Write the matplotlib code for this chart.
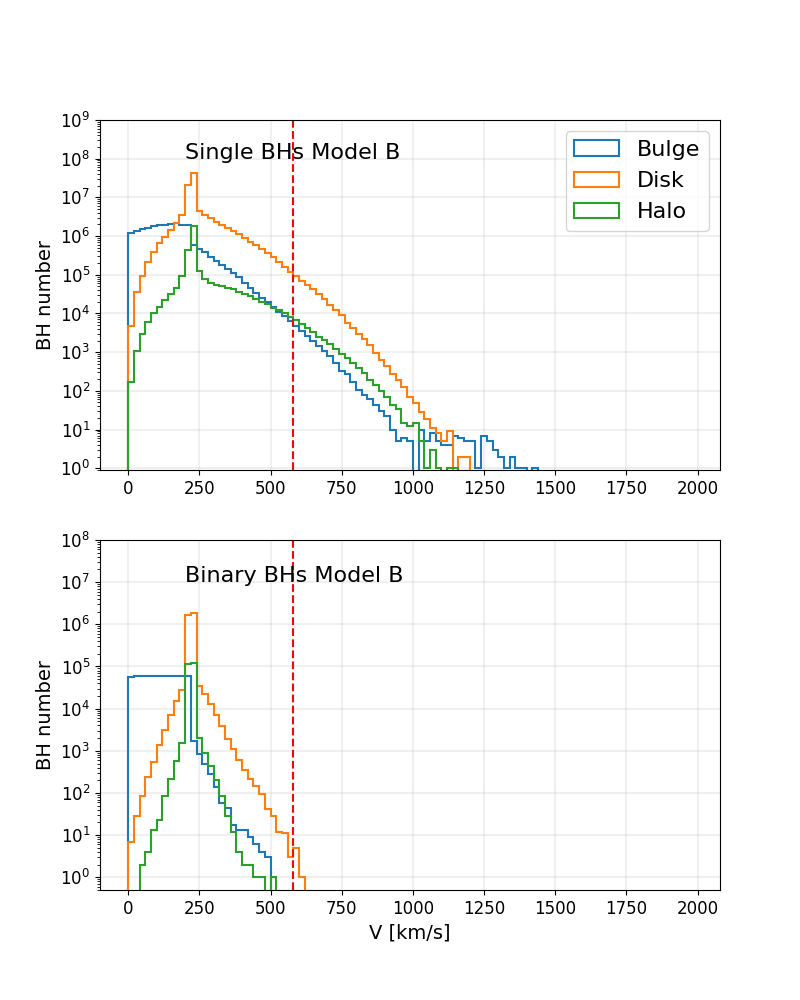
import numpy as np
import matplotlib
matplotlib.use("Agg")
import matplotlib.pyplot as plt
from matplotlib.ticker import LogLocator

# bin edges (km/s)
bin_edges = np.arange(0, 2000, 20)

# ---- Single BHs, Model B (counts per 20 km/s bin, starting at 0) ----
single_bulge = [1175000, 1380000, 1510000, 1660000, 1780000, 1900000, 1950000, 2040000,
                2140000, 1900000, 1900000, 603000, 457000, 380000, 295000, 229000, 182000,
                141000, 112000, 85100, 61700, 46800, 33900, 25100, 20000, 14800, 11000,
                8510, 6460, 4680, 3550, 2570, 1950, 1410, 1070, 794, 513, 331, 269, 170,
                105, 78, 63, 43, 30, 23, 10, 5, 6, 5, 0, 10, 5, 8, 5, 4, 4, 7, 6, 5, 5,
                1, 7, 5, 3, 2, 1, 2, 1, 1, 0, 1]
single_disk = [4800, 35000, 93000, 210000, 380000, 650000, 950000, 1450000, 2240000,
               3470000, 21400000, 41700000, 4570000, 3470000, 2880000, 2340000, 1900000,
               1660000, 1380000, 1120000, 912000, 724000, 575000, 457000, 355000, 288000,
               219000, 162000, 120000, 91200, 70800, 53700, 43700, 32400, 24000, 17000,
               12600, 8900, 5750, 4270, 3020, 2140, 1510, 955, 631, 447, 269, 195, 126,
               71, 49, 29, 19, 11, 8, 5, 9, 0, 2, 2]
single_halo = [166, 1070, 2950, 5890, 10000, 15100, 21900, 31600, 46800, 91200, 437000,
               1780000, 126000, 77600, 63100, 55000, 50100, 45700, 41700, 36300, 31600,
               27500, 23400, 20000, 17400, 14100, 12300, 10000, 7940, 6760, 5250, 4270,
               3310, 2510, 2040, 1580, 1230, 912, 692, 513, 380, 282, 195, 141, 100, 71,
               42, 33, 15, 12, 15, 5, 1, 3, 1, 0, 1, 1]

# ---- Binary BHs, Model B ----
binary_bulge = [56000, 60000, 60000, 60000, 60000, 60000, 60000, 60000, 60000, 60000,
                60000, 1740, 832, 479, 288, 141, 58, 44, 17, 13, 13, 9, 6, 4, 3]
binary_disk = [7, 29, 85, 245, 550, 1350, 3160, 7080, 14800, 27500, 1660000, 1860000,
               34700, 21900, 12600, 7240, 3980, 1950, 1120, 617, 347, 219, 145, 93, 41,
               28, 12, 11, 3, 5, 1]
binary_halo = [0, 0, 2, 4, 13, 23, 85, 219, 575, 1510, 117000, 123000, 2040, 912, 437,
               200, 83, 28, 12, 4, 2, 2, 1, 1, 0, 1]

labels = ["Bulge", "Disk", "Halo"]
v_cut = 578
titles = ["Single BHs Model B", "Binary BHs Model B"]
ylims = [(0.9, 1e9), (0.5, 1e8)]
title_y = [1e8, 1e7]


def padded(vals):
    out = np.zeros(len(bin_edges) - 1)
    out[:len(vals)] = vals
    return out


centers = 0.5 * (bin_edges[:-1] + bin_edges[1:])

fig, axes = plt.subplots(2, 1, figsize=(8, 10), dpi=100)
datasets = [(single_bulge, single_disk, single_halo),
            (binary_bulge, binary_disk, binary_halo)]

for i, ax in enumerate(axes):
    for vals, lab in zip(datasets[i], labels):
        ax.hist(centers, bins=bin_edges, weights=padded(vals), histtype="step",
                log=True, label=lab, linewidth=1.5)
    ax.axvline(v_cut, color="red", linestyle="--", linewidth=1.5)
    ax.set_ylim(*ylims[i])
    ax.yaxis.set_major_locator(LogLocator(base=10, numticks=20))
    ax.yaxis.set_minor_locator(LogLocator(base=10, subs=np.arange(2, 10), numticks=20))
    ax.grid(True, which="major", linewidth=1.5, alpha=0.18)
    ax.set_ylabel("BH number", fontsize=14)
    ax.tick_params(labelsize=12)
    ax.text(200, title_y[i], titles[i], fontsize=16)

axes[0].legend(loc="upper right", fontsize=16)
axes[1].set_xlabel("V [km/s]", fontsize=14)

fig.savefig("out.png", dpi=100)
